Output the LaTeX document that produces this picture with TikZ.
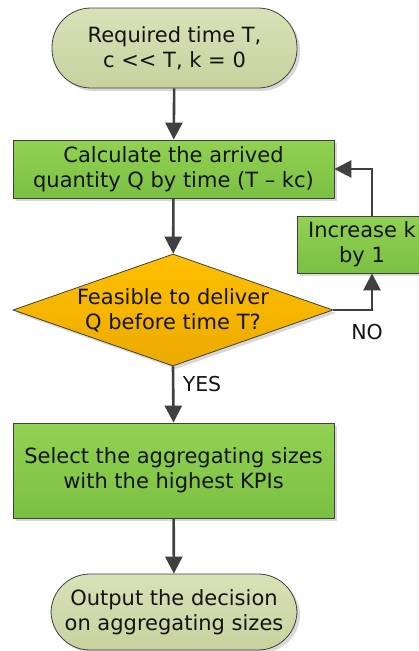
\documentclass[tikz,border=0pt]{standalone}
\usepackage{fontspec}
\setmainfont{DejaVu Sans}
\usetikzlibrary{shapes.geometric,arrows.meta,shadows}

\definecolor{edgegray}{HTML}{404040}
\definecolor{termtop}{HTML}{D9E1B8}
\definecolor{termbot}{HTML}{C8D29E}
\definecolor{proctop}{HTML}{92D152}
\definecolor{procbot}{HTML}{7BC043}
\definecolor{dectop}{HTML}{FFC000}
\definecolor{decbot}{HTML}{EBAA00}
\definecolor{inktext}{HTML}{141414}

\tikzset{
  x=1pt, y=-1pt,
  base/.style={draw=edgegray, line width=0.8pt, text=inktext, align=center,
    font=\fontsize{21}{25}\selectfont, inner sep=0pt,
    drop shadow={shadow xshift=3pt, shadow yshift=-3pt, fill=black!25, opacity=0.6}},
  terminal/.style={base, rectangle, rounded corners=39pt,
    top color=termtop, bottom color=termbot},
  process/.style={base, rectangle, top color=proctop, bottom color=procbot},
  decision/.style={base, diamond, aspect=2.86, top color=dectop, bottom color=decbot},
  flow/.style={draw=edgegray, line width=2.6pt,
    -{Triangle[length=17pt,width=17pt]}},
  tag/.style={text=inktext, font=\fontsize{20.5}{24}\selectfont, inner sep=0pt},
}

\begin{document}
\begin{tikzpicture}
\useasboundingbox (0,0) rectangle (419,651);
\fill[white] (0,0) rectangle (419,651);

\node[terminal, minimum width=245pt, minimum height=80pt] (start) at (174.5,48)
  {Required time T,\\c <\kern0pt< T, k = 0};
\node[process, minimum width=321pt, minimum height=58pt] (calc) at (173.5,169)
  {Calculate the arrived\\quantity Q by time (T – kc)};
\node[decision, minimum width=320pt, minimum height=112pt] (feas) at (173,310)
  {Feasible to deliver\\Q before time T?};
\node[process, minimum width=321pt, minimum height=95pt] (sel) at (173.5,470.5)
  {Select the aggregating sizes\\with the highest KPIs};
\node[terminal, minimum width=246pt, minimum height=76pt] (out) at (174,612)
  {Output the decision\\on aggregating sizes};

% this box runs past the right edge of the page, so it is clipped there
\begin{scope}
  \clip (0,0) rectangle (419,651);
  \node[process, minimum width=190pt, minimum height=57pt] (incr) at (392,244.5)
    {\hspace*{-60pt}Increase k\\\hspace*{-60pt}by 1};
\end{scope}

\coordinate (incrin) at ([xshift=-20pt]incr.south);
\coordinate (incrout) at ([xshift=-20pt]incr.north);
\coordinate (loopturn) at (incrout |- calc.east);

\draw[flow] (start) -- (calc);
\draw[flow] (calc) -- (feas);
\draw[flow] (feas.east) -| (incrin);
\draw[flow] (incrout) -- (loopturn) -- (calc.east);
\draw[flow] (feas.south) -- (sel.north);
\draw[flow] (sel) -- (out);

\node[tag] (yes) at (202,384) {YES};
\node[tag] (no) at (367,332) {NO};
\end{tikzpicture}
\end{document}
